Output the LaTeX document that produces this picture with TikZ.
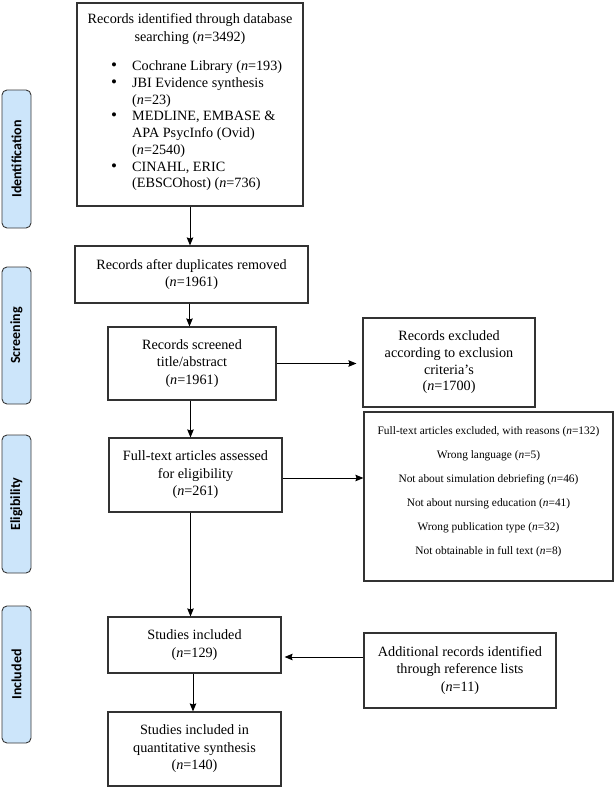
\documentclass[tikz,border=0pt]{standalone}
\usepackage{fontspec}
\setmainfont{Liberation Serif}
\newfontfamily\lblfont{Carlito}
\usetikzlibrary{arrows.meta,calc}
\definecolor{lblfill}{RGB}{204,229,250}
\definecolor{lbldraw}{RGB}{55,55,55}
\definecolor{boxdraw}{RGB}{50,50,50}
\newcommand{\bigbul}{{\fontsize{17}{17}\selectfont\textbullet}}
\begin{document}
\begin{tikzpicture}[x=1pt,y=-1pt,
  box/.style={draw=boxdraw,line width=1.1pt,rectangle,inner sep=0pt,align=center,
    font=\fontsize{14.2}{17.5}\selectfont},
  smalltxt/.style={align=center,inner sep=0pt,font=\fontsize{11.4}{24}\selectfont},
  phase/.style={draw=lbldraw,fill=lblfill,line width=0.9pt,rounded corners=5pt,rotate=90,
    minimum height=29pt,inner sep=0pt,font=\lblfont\bfseries\fontsize{14}{16}\selectfont},
  arr/.style={draw=black,line width=1pt,-{Stealth[length=8pt,width=6.5pt,inset=1pt]}}]
\useasboundingbox (0,0) rectangle (614,787);

% phase labels
\node[phase,minimum width=138pt] (pid) at (16.5,159) {Identification};
\node[phase,minimum width=137pt] (psc) at (16.5,335.5) {Screening};
\node[phase,minimum width=138pt] (pel) at (16.5,504) {Eligibility};
\node[phase,minimum width=137pt] (pin) at (16.5,674.5) {Included};

% main column
\node[box,minimum width=226pt,minimum height=203pt] (b1) at (190,104.5) {};
\node[align=center,inner sep=0pt,font=\fontsize{14.2}{18}\selectfont] (b1h) at (190,29)
  {Records identified through database\\searching (\textit{n}=3492)};
\node[anchor=north west,inner sep=0pt,font=\fontsize{14.2}{16.7}\selectfont] (b1l) at (111,59)
  {\begin{tabular}{@{}p{21pt}@{}l@{}}
   \bigbul & Cochrane Library (\textit{n}=193)\\
   \bigbul & JBI Evidence synthesis\\
               & (\textit{n}=23)\\
   \bigbul & MEDLINE, EMBASE \&\\
               & APA PsycInfo (Ovid)\\
               & (\textit{n}=2540)\\
   \bigbul & CINAHL, ERIC\\
               & (EBSCOhost) (\textit{n}=736)
   \end{tabular}};

\node[box,minimum width=233pt,minimum height=57pt] (b2) at (191.5,274.5)
  {Records after duplicates removed\\(\textit{n}=1961)};
\node[box,minimum width=168pt,minimum height=73pt] (b3) at (192,363.5)
  {Records screened\\title/abstract\\(\textit{n}=1961)};
\node[box,minimum width=173pt,minimum height=74pt] (b4) at (195.5,475)
  {Full-text articles assessed\\for eligibility\\(\textit{n}=261)};
\node[box,minimum width=173pt,minimum height=56pt] (b5) at (194.5,645)
  {Studies included\\(\textit{n}=129)};
\node[box,minimum width=173pt,minimum height=74pt] (b6) at (194.5,749)
  {Studies included in\\quantitative synthesis\\(\textit{n}=140)};

% right column
\node[box,minimum width=172pt,minimum height=89pt,font=\fontsize{14.2}{16.7}\selectfont] (ex1) at (449,362.5)
  {Records excluded\\according to exclusion\\criteria’s\\(\textit{n}=1700)};
\node[box,minimum width=249pt,minimum height=169pt] (ex2) at (488.5,496.5) {};
\node[smalltxt] (ex2t) at (488.5,491.5)
  {Full-text articles excluded, with reasons (\textit{n}=132)\\
   Wrong language (\textit{n}=5)\\
   Not about simulation debriefing (\textit{n}=46)\\
   Not about nursing education (\textit{n}=41)\\
   Wrong publication type (\textit{n}=32)\\
   Not obtainable in full text (\textit{n}=8)};
\node[box,minimum width=192pt,minimum height=75pt] (add) at (460,670.5)
  {Additional records identified\\through reference lists\\(\textit{n}=11)};

% connectors
\draw[arr] (b1.south) -- (b1.south |- b2.north);
\draw[arr] ([xshift=-2pt]b2.south) -- ([xshift=-2pt]b2.south |- b3.north);
\draw[arr] ([xshift=-1.5pt]b3.south) -- ([xshift=-1.5pt]b3.south |- b4.north);
\draw[arr] ([xshift=-5pt]b4.south) -- ([xshift=-5pt]b4.south |- b5.north);
\draw[arr] ([xshift=-1.5pt]b5.south) -- ([xshift=-1.5pt]b5.south |- b6.north);
\draw[arr] (b3.east) -- ([xshift=-6pt]b3.east -| ex1.west);
\draw[arr] ([yshift=-3pt]b4.east) -- ([yshift=-3pt]b4.east -| ex2.west);
\draw[arr] ([yshift=13.5pt]add.west) -- ([yshift=13.5pt,xshift=3pt]add.west -| b5.east);
\end{tikzpicture}
\end{document}
